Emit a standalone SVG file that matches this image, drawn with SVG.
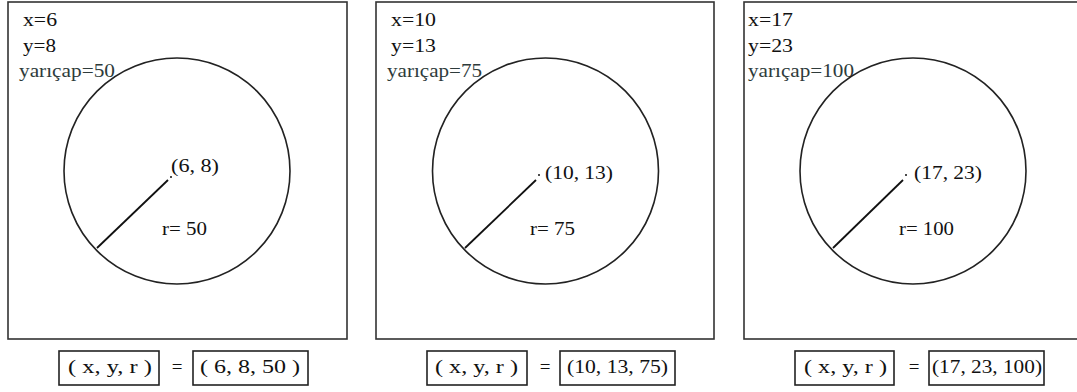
<svg xmlns="http://www.w3.org/2000/svg" width="1077" height="392" viewBox="0 0 1077 392">
<style>
.frame{fill:#fff;stroke:#333;stroke-width:1.6}
.circ{fill:none;stroke:#222;stroke-width:1.6}
.rad{stroke:#111;stroke-width:1.8}
.box{fill:#fff;stroke:#222;stroke-width:1.6}
text{font-family:"Liberation Serif","Times New Roman",serif;font-size:19px;fill:#111}
.gr{fill:#2e3b3b}
.sm{text-anchor:middle}
</style>
<rect width="1077" height="392" fill="#fff"/>
<g id="panel1">
<rect class="frame" x="8" y="2" width="339" height="337"/>
<text x="23" y="26" textLength="34" lengthAdjust="spacingAndGlyphs">x=6</text>
<text x="23" y="52" textLength="33" lengthAdjust="spacingAndGlyphs">y=8</text>
<text class="gr" x="19" y="77" textLength="96" lengthAdjust="spacingAndGlyphs">yarıçap=50</text>
<circle class="circ" cx="177" cy="171" r="113"/>
<circle cx="171" cy="177" r="1" fill="#111"/>
<text x="171" y="172" textLength="48" lengthAdjust="spacingAndGlyphs">(6, 8)</text>
<text x="162" y="235" textLength="45" lengthAdjust="spacingAndGlyphs">r= 50</text>
<rect class="box" x="59" y="351" width="100" height="34"/>
<text x="68" y="373" textLength="84" lengthAdjust="spacingAndGlyphs">( x, y, r )</text>
<text class="sm" x="177" y="373">=</text>
<rect class="box" x="193" y="351" width="115" height="34"/>
<text x="200" y="373" textLength="100" lengthAdjust="spacingAndGlyphs">( 6, 8, 50 )</text>
</g>
<g id="panel2">
<rect class="frame" x="376" y="2" width="338" height="337"/>
<text x="391" y="26" textLength="45" lengthAdjust="spacingAndGlyphs">x=10</text>
<text x="391" y="52" textLength="45" lengthAdjust="spacingAndGlyphs">y=13</text>
<text class="gr" x="387" y="77" textLength="95" lengthAdjust="spacingAndGlyphs">yarıçap=75</text>
<circle class="circ" cx="545.5" cy="171" r="113"/>
<circle cx="539" cy="175" r="1" fill="#111"/>
<text x="545" y="179" textLength="68" lengthAdjust="spacingAndGlyphs">(10, 13)</text>
<text x="530" y="235" textLength="45" lengthAdjust="spacingAndGlyphs">r= 75</text>
<rect class="box" x="427" y="351" width="100" height="34"/>
<text x="435" y="373" textLength="83" lengthAdjust="spacingAndGlyphs">( x, y, r )</text>
<text class="sm" x="545" y="373">=</text>
<rect class="box" x="560" y="351" width="115" height="34"/>
<text x="567" y="373" textLength="101" lengthAdjust="spacingAndGlyphs">(10, 13, 75)</text>
</g>
<g id="panel3">
<rect class="frame" x="744" y="2" width="340" height="337"/>
<text x="748" y="26" textLength="45" lengthAdjust="spacingAndGlyphs">x=17</text>
<text x="748" y="52" textLength="45" lengthAdjust="spacingAndGlyphs">y=23</text>
<text class="gr" x="748" y="77" textLength="106" lengthAdjust="spacingAndGlyphs">yarıçap=100</text>
<circle class="circ" cx="913" cy="171" r="113"/>
<circle cx="906" cy="175" r="1" fill="#111"/>
<text x="914" y="179" textLength="68" lengthAdjust="spacingAndGlyphs">(17, 23)</text>
<text x="899" y="235" textLength="55" lengthAdjust="spacingAndGlyphs">r= 100</text>
<rect class="box" x="795" y="351" width="99" height="34"/>
<text x="804" y="373" textLength="83" lengthAdjust="spacingAndGlyphs">( x, y, r )</text>
<text class="sm" x="914" y="373">=</text>
<rect class="box" x="929" y="351" width="115" height="34"/>
<text x="932" y="373" textLength="110" lengthAdjust="spacingAndGlyphs">(17, 23, 100)</text>
</g>
<g id="connectors">
<line class="rad" x1="168" y1="180" x2="97" y2="248"/>
<line class="rad" x1="536" y1="180" x2="465" y2="248"/>
<line class="rad" x1="903" y1="180" x2="833" y2="248"/>
</g>
</svg>
